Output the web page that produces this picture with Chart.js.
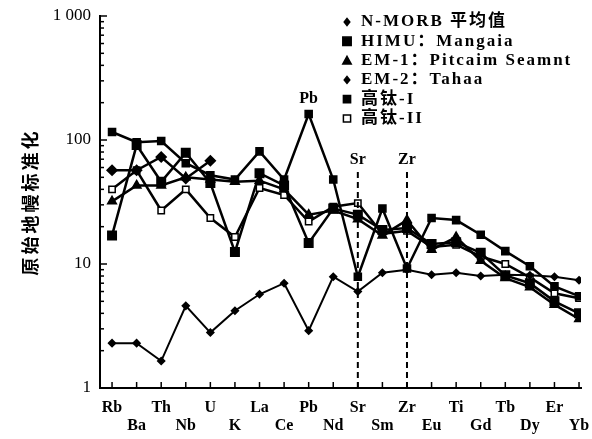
<!DOCTYPE html>
<html>
<head>
<meta charset="utf-8">
<script src="https://cdn.jsdelivr.net/npm/chart.js@4.4.1/dist/chart.umd.min.js"></script>
<style>
  html, body { margin: 0; padding: 0; background: #fff; }
</style>
</head>
<body>
<canvas id="chart" width="592" height="439"></canvas>
<script>
// element order along the x-axis
const elements = ['Rb', 'Ba', 'Th', 'Nb', 'U', 'K', 'La', 'Ce', 'Pb', 'Nd',
  'Sr', 'Sm', 'Zr', 'Eu', 'Ti', 'Gd', 'Tb', 'Dy', 'Er', 'Yb'];

// primitive-mantle normalised values
const nMorb   = [2.3, 2.3, 1.65, 4.6, 2.8, 4.2, 5.7, 7.0, 2.9, 7.9, 6.0, 8.5, 9.0, 8.2, 8.5, 8.0, 8.2, 8.1, 7.9, 7.4];
const himu    = [17, 91, 46, 79, 45, 12.5, 54, 43, 14.8, 28, 25, 18.8, 19.5, 14.5, 15, 12.3, 8.1, 7.0, 5.0, 4.0];
const em1     = [32, 43, 43, 50, 48, 46, 47, 40, 25, 27, 23, 17, 22.6, 13, 16.5, 10.6, 7.7, 6.5, 4.7, 3.6];
const em2     = [57, 57, 73, 49, 68, null, null, null, null, null, null, null, null, null, null, null, null, null, null, null];
const highTi1 = [116, 96, 98, 65, 52, 48, 81, 48, 162, 48, 7.9, 28, 9.2, 23.5, 22.6, 17.2, 12.7, 9.6, 6.6, 5.5];
const highTi2 = [40, 57, 27, 40, 23.5, 16.5, 41, 36, 22, 29, 31, 17.5, 18.5, 13.7, 14.3, 11.5, 10.0, 7.8, 5.8, 5.3];

const seriesNames = ['N-MORB 平均值', 'HIMU：Mangaia', 'EM-1：Pitcaim Seamnt', 'EM-2：Tahaa', '高钛-I', '高钛-II'];
const yTickValues = [1, 10, 100, 1000];
const yTickLabels = ['1', '10', '100', '1 000'];

const serif = "'Liberation Serif', 'Noto Sans CJK SC', serif";

function toPoints(arr) {
  return arr.map((v, i) => ({ x: i, y: v }));
}

const styles = [
  { shape: 'rectRot', r: 3.5, fill: '#000', lw: 2 },
  { shape: 'rect', r: 6, fill: '#000', lw: 2.5 },
  { shape: 'triangle', r: 5, fill: '#000', lw: 2.5 },
  { shape: 'rectRot', r: 5, fill: '#000', lw: 2.5 },
  { shape: 'rect', r: 5, fill: '#000', lw: 2.5 },
  { shape: 'rect', r: 4.5, fill: '#fff', lw: 2.5 }
];
const allSeries = [nMorb, himu, em1, em2, highTi1, highTi2];

const datasets = allSeries.map((arr, k) => ({
  label: seriesNames[k],
  data: toPoints(arr),
  borderColor: '#000',
  borderWidth: styles[k].lw,
  pointStyle: styles[k].shape,
  pointRadius: styles[k].r,
  pointBackgroundColor: styles[k].fill,
  pointBorderColor: '#000',
  pointBorderWidth: 1.5,
  fill: false,
  tension: 0,
  spanGaps: false
}));

// inward ticks, annotations, legend and y title
const decorations = {
  id: 'decorations',
  afterDraw(chart) {
    const ctx = chart.ctx;
    const xs = chart.scales.x, ys = chart.scales.y;
    const area = chart.chartArea;
    ctx.save();
    ctx.strokeStyle = '#000';
    ctx.fillStyle = '#000';

    // x ticks
    ctx.lineWidth = 1.5;
    elements.forEach((e, i) => {
      const px = xs.getPixelForValue(i);
      ctx.beginPath();
      ctx.moveTo(px, area.bottom);
      ctx.lineTo(px, area.bottom - 6);
      ctx.stroke();
    });
    // y ticks, major and minor
    [1, 10, 100].forEach(d => {
      for (let m = 1; m <= 9; m++) {
        const py = ys.getPixelForValue(d * m);
        ctx.beginPath();
        ctx.moveTo(area.left, py);
        ctx.lineTo(area.left + (m === 1 ? 7 : 4), py);
        ctx.stroke();
      }
    });
    const top = ys.getPixelForValue(1000);
    ctx.beginPath();
    ctx.moveTo(area.left, top);
    ctx.lineTo(area.left + 7, top);
    ctx.stroke();

    // dashed markers at Sr and Zr
    ctx.lineWidth = 2;
    ctx.setLineDash([6, 4]);
    ['Sr', 'Zr'].forEach(name => {
      const px = xs.getPixelForValue(elements.indexOf(name));
      ctx.beginPath();
      ctx.moveTo(px, area.top + 156);
      ctx.lineTo(px, area.bottom);
      ctx.stroke();
    });
    ctx.setLineDash([]);

    // element labels in the plot
    ctx.font = 'bold 16px ' + serif;
    ctx.textAlign = 'center';
    ctx.textBaseline = 'middle';
    ['Sr', 'Zr'].forEach(name => {
      ctx.fillText(name, xs.getPixelForValue(elements.indexOf(name)), area.top + 144);
    });
    const pbi = elements.indexOf('Pb');
    ctx.fillText('Pb', xs.getPixelForValue(pbi), ys.getPixelForValue(highTi1[pbi]) - 15);

    // legend
    const lx = 347, tx = 361;
    ctx.textAlign = 'left';
    ctx.font = 'bold 17px ' + serif;
    ctx.letterSpacing = '2px';
    const legendSize = [3.5, 4.2, 4.2, 3.5, 3.6, 3.6];
    seriesNames.forEach((name, k) => {
      const y = 22 + k * 19.3;
      const s = legendSize[k];
      ctx.beginPath();
      if (styles[k].shape === 'rectRot') {
        ctx.moveTo(lx, y - s); ctx.lineTo(lx + s * 0.8, y); ctx.lineTo(lx, y + s); ctx.lineTo(lx - s * 0.8, y);
        ctx.closePath();
      } else if (styles[k].shape === 'triangle') {
        ctx.moveTo(lx, y - s); ctx.lineTo(lx + s, y + s * 0.8); ctx.lineTo(lx - s, y + s * 0.8);
        ctx.closePath();
      } else {
        ctx.rect(lx - s, y - s, 2 * s, 2 * s);
      }
      ctx.fillStyle = styles[k].fill;
      ctx.fill();
      ctx.lineWidth = 1.5;
      ctx.stroke();
      ctx.fillStyle = '#000';
      ctx.fillText(name, tx, y);
    });
    ctx.letterSpacing = '0px';

    // y axis title
    ctx.save();
    ctx.translate(30, (area.top + area.bottom) / 2);
    ctx.rotate(-Math.PI / 2);
    ctx.textAlign = 'center';
    ctx.font = 'bold 18px "Noto Sans CJK SC"';
    ctx.letterSpacing = '3px';
    ctx.fillText('原始地幔标准化', 0, 0);
    ctx.restore();

    ctx.restore();
  }
};

new Chart(document.getElementById('chart'), {
  type: 'line',
  data: { datasets },
  options: {
    responsive: false,
    animation: false,
    layout: { padding: { top: 16, right: 11, left: 0, bottom: 0 } },
    plugins: { legend: { display: false }, tooltip: { enabled: false } },
    scales: {
      x: {
        type: 'linear',
        min: -0.49,
        max: 19.08,
        afterBuildTicks: s => { s.ticks = elements.map((e, i) => ({ value: i })); },
        afterFit: s => { s.height = 51; s.paddingLeft = 0; s.paddingRight = 0; },
        grid: { display: false, drawTicks: false },
        border: { display: true, color: '#000', width: 2 },
        ticks: {
          autoSkip: false,
          maxRotation: 0,
          padding: 11,
          color: '#000',
          font: { family: serif, size: 16, weight: 'bold', lineHeight: 1.1 },
          callback: v => (v % 2 === 0 ? [elements[v], ''] : ['', elements[v]])
        }
      },
      y: {
        type: 'logarithmic',
        min: 1,
        max: 1000,
        afterBuildTicks: s => { s.ticks = yTickValues.map(v => ({ value: v })); },
        afterFit: s => { s.width = 100; s.paddingTop = 0; s.paddingBottom = 0; },
        grid: { display: false, drawTicks: false },
        border: { display: true, color: '#000', width: 2 },
        ticks: {
          padding: 9,
          color: '#000',
          font: { family: serif, size: 17 },
          callback: v => yTickLabels[yTickValues.indexOf(v)]
        }
      }
    }
  },
  plugins: [decorations]
});
</script>
</body>
</html>
